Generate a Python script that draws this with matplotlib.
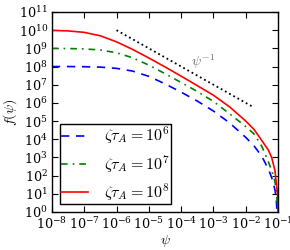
import matplotlib
matplotlib.use("Agg")
import matplotlib.pyplot as plt

plt.rcParams['mathtext.fontset'] = 'cm'
plt.rcParams['font.family'] = ['DejaVu Serif']

# psi values and f(psi) for each zeta*tau_A
psi_r = [1e-8, 3.16e-8, 1e-7, 3.16e-7, 1e-6, 3.16e-6, 1e-5, 3.16e-5, 1e-4, 3.16e-4,
         1e-3, 3.16e-3, 1e-2, 1.78e-2, 3.16e-2, 5.01e-2, 6.31e-2, 7.94e-2, 8.91e-2,
         9.33e-2, 9.77e-2, 1e-1]
f_r = [9.77e9, 9.12e9, 7.59e9, 4.90e9, 2.29e9, 8.71e8, 2.95e8, 9.55e7, 2.95e7, 8.91e6,
       2.63e6, 6.03e5, 1.0e5, 3.55e4, 8.32e3, 2.51e3, 1.0e3, 2.0e2, 35.5,
       15.8, 6.3, 1.0]

psi_g = [1e-8, 3.16e-8, 1e-7, 3.16e-7, 1e-6, 3.16e-6, 1e-5, 3.16e-5, 1e-4, 3.16e-4,
         1e-3, 3.16e-3, 1e-2, 1.78e-2, 3.16e-2, 5.01e-2, 6.31e-2, 7.94e-2, 8.91e-2,
         9.55e-2, 1e-1]
f_g = [1.0e9, 9.77e8, 9.33e8, 8.13e8, 5.75e8, 3.02e8, 1.20e8, 4.07e7, 1.32e7, 4.27e6,
       1.20e6, 2.51e5, 5.01e4, 2.0e4, 3.98e3, 5.62e2, 2.0e2, 50.1, 11.2,
       2.51, 1.0]

psi_b = [1e-8, 3.16e-8, 1e-7, 3.16e-7, 1e-6, 3.16e-6, 1e-5, 3.16e-5, 1e-4, 3.16e-4,
         1e-3, 3.16e-3, 1e-2, 1.78e-2, 3.16e-2, 5.01e-2, 6.31e-2, 7.94e-2, 8.71e-2,
         9.04e-2, 9.23e-2]
f_b = [1.0e8, 1.0e8, 9.77e7, 9.33e7, 7.94e7, 5.62e7, 2.88e7, 1.12e7, 3.89e6, 1.26e6,
       3.55e5, 7.94e4, 1.26e4, 4.47e3, 1.12e3, 2.24e2, 79.4, 17.8, 5.62,
       2.0, 1.0]

psi_ref = [1e-6, 1.7e-2]
f_ref = [1e10, 5.9e5]

labels = [r'$\zeta\tau_A=10^6$', r'$\zeta\tau_A=10^7$', r'$\zeta\tau_A=10^8$']

fig = plt.figure(figsize=(2.9, 2.5), dpi=100)
ax = fig.add_axes([0.179, 0.152, 0.780, 0.800])

ax.loglog(psi_b, f_b, color='b', ls='--', lw=1.2, label=labels[0], dashes=(5, 4))
ax.loglog(psi_g, f_g, color='g', ls='-.', lw=1.2, label=labels[1], dashes=(4, 3, 1, 3))
ax.loglog(psi_r, f_r, color='r', ls='-', lw=1.2, label=labels[2])
ax.loglog(psi_ref, f_ref, color='k', ls=':', lw=1.3)
ax.text(4.7e-4, 1.8e8, r'$\psi^{-1}$', fontsize=10, color='0.4',
        ha='center', va='center')

ax.set_xlim(1e-8, 1e-1)
ax.set_ylim(1e0, 1e11)
ax.set_xticks([1e-8, 1e-7, 1e-6, 1e-5, 1e-4, 1e-3, 1e-2, 1e-1])
ax.set_yticks([10.0**k for k in range(0, 12)])
ax.tick_params(which='both', direction='in', top=True, right=True, labelsize=9.2)
ax.tick_params(which='major', length=4, width=0.8, pad=3)
ax.tick_params(which='minor', length=2, width=0.6)
ax.tick_params(axis='y', which='minor', left=False, right=False)
for s in ax.spines.values():
    s.set_linewidth(1.0)

ax.set_xlabel(r'$\psi$', fontsize=10, labelpad=1)
ax.set_ylabel(r'$f(\psi)$', fontsize=10, labelpad=0)

leg = ax.legend(loc='lower left', fontsize=11.5, handlelength=1.7, handletextpad=1.0,
                labelspacing=0.42, borderaxespad=0.5, borderpad=0.08,
                fancybox=False, framealpha=1)
leg.get_frame().set_edgecolor('k')
leg.get_frame().set_linewidth(1.0)

fig.savefig('out.png', dpi=100)
